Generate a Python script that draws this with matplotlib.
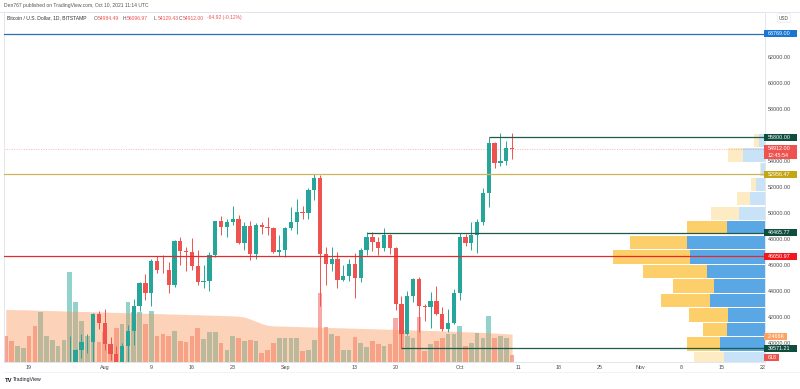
import matplotlib
matplotlib.use("Agg")
import matplotlib.pyplot as plt
import matplotlib.dates as mdates
import matplotlib.transforms as mtransforms
from matplotlib.patches import Rectangle
import numpy as np
import pandas as pd

plt.rcParams['font.family'] = ['Liberation Sans', 'DejaVu Sans']

# BTC/USD daily, Bitstamp, 15 Jul - 10 Oct 2021
dates = pd.date_range("2021-07-15", "2021-10-10", freq="D")
opens = [32820, 31780, 31390, 31530, 31780, 30840, 29800, 32150, 32300, 33630, 34270,
         35420, 37280, 39470, 40020, 40030, 42230,
         41500, 39870, 39150, 38190, 39720, 40880, 42840, 44610, 43820, 46280, 45600, 45560,
         44430, 47830, 47080, 46990, 45900, 44690, 44740, 46760, 49340, 48870, 49290, 49530,
         47700, 48990, 46850, 49080, 48910, 48800, 46990,
         47160, 48850, 49300, 50040, 49950, 51780, 52680, 46860, 46060, 46400, 44840, 45150,
         46060, 44960, 47110, 48150, 47740, 47290, 48320, 47250, 43000, 40700, 43560, 44880,
         42830, 42720, 43200, 42180, 41040, 41530,
         43800, 48150, 47650, 48250, 49250, 51500, 55350, 53800, 53970, 54984.49]
highs = [33180, 32250, 31950, 32430, 31890, 31060, 32860, 32600, 33630, 34500, 35450,
         40550, 39540, 40650, 40640, 42300, 42410,
         42600, 40450, 39780, 39950, 41380, 43390, 44700, 45310, 46450, 46700, 46750, 46200,
         47880, 48150, 47380, 48050, 47150, 46000, 47000, 49380, 49770, 49500, 50500, 49860,
         49250, 49370, 49190, 49300, 49650, 48900, 48250,
         48880, 50400, 51050, 50550, 51900, 52950, 52930, 47350, 47380, 47000, 45970, 46460,
         46870, 47260, 48480, 48480, 48140, 48820, 48370, 47330, 43600, 44000, 44980, 45070,
         42970, 43920, 44350, 42780, 42600, 44120,
         48450, 48350, 49250, 49500, 51900, 55800, 55400, 56100, 55500, 56096.97]
lows = [31180, 31020, 31170, 31120, 30420, 29300, 29500, 31720, 31970, 33420, 33880,
        35260, 36420, 38800, 39220, 38330, 41040,
        39420, 38700, 37640, 37520, 37350, 39850, 42450, 43300, 42850, 45360, 45360, 43800,
        44250, 45970, 45550, 45600, 44400, 44200, 43950, 46620, 48300, 48150, 49050, 47620,
        47150, 46350, 46400, 48380, 48250, 46880, 46700,
        46560, 48650, 48380, 49550, 49500, 50950, 42800, 44400, 45530, 44200, 44750, 44770,
        43400, 44700, 46750, 47040, 46750, 47090, 46850, 42500, 39600, 40560, 43100, 40800,
        41700, 41100, 42100, 40900, 40800, 41420,
        43300, 47450, 47100, 46900, 49050, 50400, 53400, 53600, 53700, 54129.43]
closes = [31780, 31390, 31530, 31780, 30840, 29800, 32150, 32300, 33630, 34270, 35420,
          37280, 39470, 40020, 40030, 42230, 41500,
          39870, 39150, 38190, 39720, 40880, 42840, 44610, 43820, 46280, 45600, 45560, 44430,
          47830, 47080, 46990, 45900, 44690, 44740, 46760, 49340, 48870, 49290, 49530, 47700,
          48990, 46850, 49080, 48910, 48800, 46990, 47160,
          48850, 49300, 50040, 49950, 51780, 52680, 46860, 46060, 46400, 44840, 45150, 46060,
          44960, 47110, 48150, 47740, 47290, 48320, 47250, 43000, 40700, 43560, 44880, 42830,
          42720, 43200, 42180, 41040, 41530, 43800,
          48150, 47650, 48250, 49250, 51500, 55350, 53800, 53970, 54980, 54912.00]
volume = [2345, 1840, 1460, 1283, 2345, 3168, 4407, 2257, 1929, 1460, 1991,
          7921, 5292, 3611, 2283, 4204, 1752,
          2611, 1398, 3053, 3407, 5266, 4381, 4407, 3407, 4496, 2283, 2434, 2345,
          2726, 1840, 1752, 2283, 3027, 2053, 2637, 2637, 1699, 1044, 2283, 2080,
          1840, 1991, 1840, 797, 1106, 1682, 2080,
          2080, 2142, 2142, 956, 1106, 1991, 6124, 3071, 2478, 2283, 1018, 1044,
          2230, 1699, 1345, 1840, 1637, 1398, 1549, 3850, 2611, 2283, 2168, 3965,
          956, 1637, 1840, 2142, 2434, 2496,
          3204, 1398, 1699, 2584, 2142, 4053, 2142, 2283, 2142, 618]
volume_ma = [4650, 4640, 4630, 4620, 4610, 4590, 4580, 4560, 4550, 4530, 4520,
             4500, 4490, 4470, 4460, 4440, 4430,
             4420, 4400, 4390, 4370, 4360, 4340, 4330, 4310, 4300, 4280, 4270, 4250,
             4240, 4220, 4210, 4190, 4180, 4160, 4150, 4130, 4120, 4100, 4080, 4050,
             3980, 3800, 3600, 3400, 3250, 3200, 3180,
             3170, 3150, 3140, 3120, 3110, 3090, 3080, 3060, 3050, 3030, 3020, 3000,
             2990, 2970, 2960, 2940, 2930, 2910, 2900, 2880, 2860, 2850, 2830, 2820,
             2800, 2780, 2770, 2750, 2740, 2720,
             2700, 2680, 2660, 2640, 2620, 2590, 2560, 2530, 2500, 2468]

# visible range volume profile, rows counted from the top
vp_top = 56100
vp_row = 1117
vp_up = [570, 2170, 400, 900, 1500, 2600, 3800, 7800, 7470, 5800, 5130, 5470, 3730, 3800, 4470, 4130]
vp_down = [560, 1560, 150, 500, 1260, 2760, 4030, 5670, 7760, 6430, 4100, 4930, 3840, 2430, 3330, 2970]
vp_value_area = range(6, 15)

# drawn levels
lvl_full = [63769.00, 52956.47, 46650.97]
lvl_full_col = ['#2a6db5', '#cdb65c', '#e5282b']
lvl_from = ["2021-10-06", "2021-09-15", "2021-09-21"]
lvl_part = [55800.00, 48465.77, 39571.21]
last_price = 54912.00
countdown = "12:45:54"

# 56000 sits under the 55800 tag, so it is not shown
price_ticks = [40000, 42000, 44000, 46000, 48000, 50000, 52000, 54000, 58000, 60000, 62000]
tick_dates = ["2021-07-19", "2021-08-01", "2021-08-09", "2021-08-16", "2021-08-23", "2021-09-01",
              "2021-09-13", "2021-09-20", "2021-10-01", "2021-10-11", "2021-10-18", "2021-10-25",
              "2021-11-01", "2021-11-08", "2021-11-15", "2021-11-22"]
tick_labels = ["19", "Aug", "9", "16", "23", "Sep", "13", "20", "Oct", "11", "18", "25",
               "Nov", "8", "15", "22"]

W, H = 800, 389
fig = plt.figure(figsize=(W / 100, H / 100), dpi=100)
fig.patch.set_facecolor('white')
rect = [4 / W, 1 - 362 / H, 761 / W, 350 / H]
ax_v = fig.add_axes(rect)
ax_p = fig.add_axes(rect, facecolor='none')
ax = fig.add_axes(rect, facecolor='none')

x = mdates.date2num(dates)
x19 = mdates.date2num(pd.Timestamp("2021-07-19"))
xlim = (x19 - 4.3, x19 + 126.46)
ylim = (38515, 65438)

o = np.array(opens); c = np.array(closes)
up = c >= o

# volume + its moving average
ax_v.bar(x, volume, width=0.8, color=np.where(up, '#92d2cc', '#f7a9a7'), lw=0, zorder=1)
ax_v.fill_between(x, volume_ma, color='#f8965a', alpha=0.42, lw=0, zorder=2)
ax_v.set_xlim(xlim)
ax_v.set_ylim(0, 30975)
ax_v.axis('off')

# volume profile, anchored to the price scale
n = len(vp_up)
centers = vp_top - vp_row * (np.arange(n) + 0.5)
va = np.array([i in vp_value_area for i in range(n)])
ax_p.barh(centers, vp_up, height=vp_row * 0.92, left=0,
          color=np.where(va, '#5aa7e6', '#c8e2f7'), lw=0)
ax_p.barh(centers, vp_down, height=vp_row * 0.92, left=vp_up,
          color=np.where(va, '#fccf6a', '#fdebc4'), lw=0)
ax_p.set_xlim(76100, 0)
ax_p.set_ylim(ylim)
ax_p.axis('off')

# candles
ccol = np.where(up, '#26a69a', '#ef5350')
ax.vlines(x, lows, highs, colors=ccol, lw=0.7, zorder=3)
ax.bar(x, np.maximum(np.abs(c - o), 45), bottom=np.minimum(o, c), width=0.74,
       color=ccol, lw=0, zorder=4)

for lv, col in zip(lvl_full, lvl_full_col):
    ax.axhline(lv, color=col, lw=0.9, zorder=5)
for lv, d in zip(lvl_part, lvl_from):
    ax.hlines(lv, mdates.date2num(pd.Timestamp(d)), xlim[1], color='#1f5a4b', lw=0.9, zorder=5)
ax.axhline(last_price, color='#ef5350', lw=0.5, ls=(0, (1.5, 2)), alpha=0.55, zorder=2)

ax.set_xlim(xlim)
ax.set_ylim(ylim)
ax.yaxis.tick_right()
ax.set_yticks(price_ticks)
ax.set_yticklabels([f"{v:.2f}" for v in price_ticks])
ax.set_xticks(mdates.date2num(pd.to_datetime(tick_dates)))
ax.set_xticklabels(tick_labels)
ax.tick_params(axis='both', length=0, labelsize=3.9, labelcolor='#4a4a4a')
ax.tick_params(axis='y', pad=2.3)
ax.tick_params(axis='x', pad=2.2)
for s in ax.spines.values():
    s.set_color('#e0e3eb')
    s.set_linewidth(0.6)

ppx = (ylim[1] - ylim[0]) / 350
vpx = 30975 / 350


def tag(axis, value, text, color, per_px, width=33, lines=1, shift=0, fg='white'):
    tr = mtransforms.blended_transform_factory(fig.transFigure, axis.transData)
    top = value + (3.5 - shift) * per_px
    hh = 7 * lines * per_px
    fig.add_artist(Rectangle((764 / W, top - hh), width / W, hh, transform=tr,
                             facecolor=color, edgecolor='none', zorder=10))
    for i, t in enumerate(text.split("\n")):
        fig.text(768 / W, value - (shift + 7 * i) * per_px, t, transform=tr, fontsize=3.9,
                 color=fg, ha='left', va='center', zorder=11)


tag(ax, 63769.00, "63769.00", '#1976d2', ppx)
tag(ax, 55800.00, "55800.00", '#0f4d3f', ppx)
tag(ax, last_price, f"{last_price:.2f}\n{countdown}", '#ef5350', ppx, lines=2)
tag(ax, 52956.47, "52956.47", '#c4a512', ppx)
tag(ax, 48465.77, "48465.77", '#0f4d3f', ppx)
tag(ax, 46650.97, "46650.97", '#f2171c', ppx)
tag(ax_v, volume_ma[-1], "2.468K", '#ffa160', vpx, width=23, shift=2)
tag(ax, 39571.21, "39571.21", '#0f4d3f', ppx)
tag(ax_v, volume[-1], "618", '#ef5350', vpx, width=15, shift=2.5)

# header
fig.text(4 / W, 1 - 6 / H, "Den767 published on TradingView.com, Oct 10, 2021 11:14 UTC",
         fontsize=3.6, color='#555555', va='center')
hy = 1 - 18 / H
fig.text(7 / W, hy, "Bitcoin / U.S. Dollar, 1D, BITSTAMP", fontsize=3.6, color='#333333', va='center')
for px, lab, val in [(94, "O", "54984.49"), (123, "H", "56096.97"), (154, "L", "54129.43"),
                     (179, "C", "54912.00")]:
    fig.text(px / W, hy, lab, fontsize=3.6, color='#555555', va='center')
    fig.text((px + 3.3) / W, hy, val, fontsize=3.6, color='#ef5350', va='center')
fig.text(207 / W, hy, "-64.92 (-0.12%)", fontsize=3.6, color='#ef5350', va='center')
fig.text(779 / W, hy, "USD", fontsize=3.4, color='#4a4a4a', va='center',
         bbox=dict(boxstyle='round,pad=0.4', fc='white', ec='#e0e3eb', lw=0.4))

fig.add_artist(plt.Line2D([0, 1], [1 - 11.5 / H, 1 - 11.5 / H], color='#e0e3eb', lw=0.6))
fig.add_artist(plt.Line2D([4 / W, 1], [1 - 372 / H, 1 - 372 / H], color='#eceef3', lw=0.5))

fig.text(5 / W, 1 - 380 / H, "TV", fontsize=4.2, weight='bold', color='#131722', va='center')
fig.text(13 / W, 1 - 380 / H, "TradingView", fontsize=3.7, color='#131722', va='center')

fig.savefig("out.png", dpi=100)
